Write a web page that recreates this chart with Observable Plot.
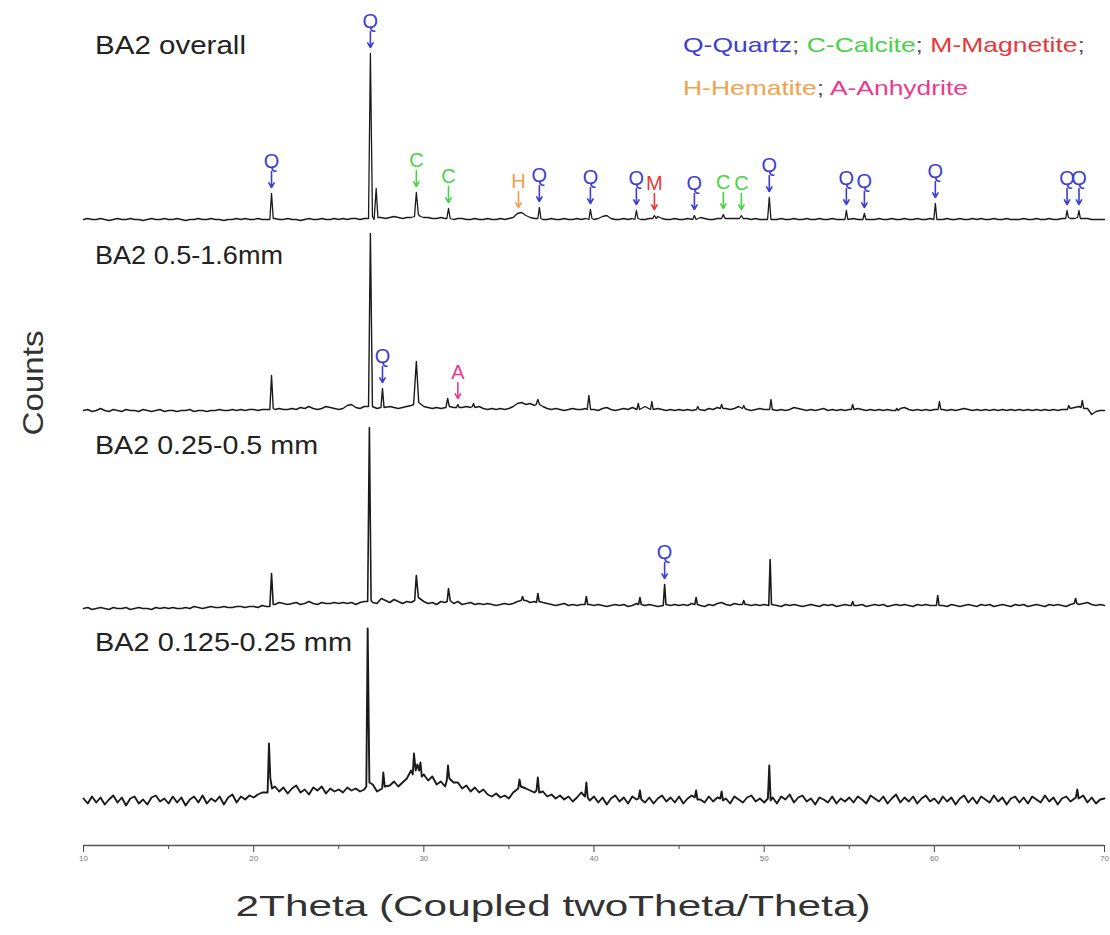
<!DOCTYPE html>
<html><head><meta charset="utf-8">
<script src="https://cdn.jsdelivr.net/npm/d3@7"></script>
<script src="https://cdn.jsdelivr.net/npm/@observablehq/plot@0.6"></script>
<style>body{margin:0;background:#fff;} svg{display:block}</style>
</head><body><div id="chart"></div><script>
// ---------- DATA ----------
const seriesNames = ["BA2 overall", "BA2 0.5-1.6mm", "BA2 0.25-0.5 mm", "BA2 0.125-0.25 mm"];
const seriesOffsets = [625, 433, 239, 45];
const gridStart = 10, gridStep = 0.25;   // background sampled every 0.25° 2θ
const bgOverall = [
 1,2,1,1,2,1,0,1,2,1,1,2,1,1,0,1,2,1,1,2,
 1,1,2,1,0,1,1,2,1,1,2,1,1,0,1,1,2,1,2,1,
 1,2,1,1,2,2,1,1,2,1,1,0,1,2,1,1,2,1,1,2,
 1,2,1,2,2,1,2,2,1,2,3,2,3,4,3,2,3,3,4,4,
 3,3,2,2,3,2,2,1,2,2,1,1,2,1,1,2,1,1,2,1,
 2,3,7,8,5,3,2,2,1,1,2,1,1,2,1,1,2,1,2,1,
 1,2,4,5,2,1,1,2,1,2,1,1,1,2,3,4,2,1,1,2,
 1,1,2,1,2,3,2,1,1,2,3,2,2,2,3,2,2,1,2,1,
 1,1,1,1,2,1,1,2,1,1,2,1,1,2,1,1,2,1,1,2,
 1,2,1,1,2,1,1,2,1,1,2,1,1,2,1,1,2,1,1,2,
 1,1,1,2,1,1,2,1,1,2,1,2,1,1,2,1,1,2,1,1,
 1,2,1,1,2,1,1,2,1,1,2,2,2,2,3,2,2,1,1,1,
 1];
const pkOverall = [
 [20.95,1],[21.05,27],[21.15,2],
 [26.75,2],[26.86,167],[26.98,4],[27.08,1],[27.2,32],[27.3,3],
 [29.45,4],[29.56,28],[29.68,6],[29.8,4],
 [31.35,2],[31.45,12],[31.55,2],
 [36.7,2],[36.79,13],[36.88,2],
 [39.7,1],[39.79,11],[39.88,2],
 [42.4,1],[42.49,10],[42.58,2],
 [43.45,2],[43.55,5],[43.65,2],
 [45.8,1],[45.9,5],[46.0,1],
 [47.5,2],[47.6,6],[47.7,2],
 [48.55,2],[48.66,5],[48.77,2],
 [50.2,1],[50.3,23],[50.4,1],
 [54.75,1],[54.83,10],[54.92,1],
 [55.8,1],[55.89,7],[55.98,1],
 [59.97,1],[60.06,17],[60.15,1],
 [67.72,2],[67.8,10],[67.88,3],[68.42,3],[68.5,10],[68.58,2]];
const bgCoarse = [
 2,3,1,2,4,2,1,3,2,1,3,2,2,1,3,2,1,2,3,1,
 2,2,1,2,2,3,1,2,2,1,2,2,3,2,2,3,2,3,2,3,
 3,2,3,3,3,3,4,3,3,4,3,5,4,6,4,3,4,6,5,4,
 3,4,7,8,5,4,6,6,5,4,6,5,6,5,4,5,6,7,8,8,
 6,5,4,5,4,6,7,5,6,5,6,5,7,6,4,3,4,3,4,3,
 4,6,9,10,8,9,7,8,6,4,3,4,3,2,3,4,3,3,4,3,
 3,2,4,5,3,2,3,4,3,5,3,4,6,4,3,4,3,2,3,2,
 3,2,3,2,4,3,2,4,3,5,6,4,3,4,6,4,3,2,3,4,
 3,3,4,2,3,2,3,5,4,3,2,3,2,3,4,2,3,2,3,2,
 3,3,4,3,2,3,2,3,2,3,2,3,4,5,3,2,3,2,3,2,
 3,3,3,2,3,2,3,4,3,2,3,2,3,2,3,2,3,2,3,2,
 3,2,3,2,3,2,3,2,3,2,3,4,5,5,6,5,4,-2,1,2,
 2];
const pkCoarse = [
 [20.95,3],[21.05,37],[21.15,4],
 [26.75,6],[26.86,179],[26.98,6],
 [27.48,5],[27.57,24],[27.66,5],
 [29.4,8],[29.56,51],[29.7,10],
 [31.3,5],[31.4,14],[31.5,6],
 [31.92,5],[32.0,8],[32.08,5],
 [32.85,6],[32.92,9],[33.0,5],
 [36.6,8],[36.7,13],[36.8,8],
 [39.6,3],[39.7,17],[39.8,3],
 [42.52,3],[42.6,9],[42.68,3],
 [43.32,3],[43.4,11],[43.48,3],
 [46.02,3],[46.1,6],[46.18,3],
 [47.42,4],[47.5,8],[47.58,4],
 [48.72,4],[48.8,7],[48.88,4],
 [50.32,3],[50.4,13],[50.48,3],
 [55.12,3],[55.2,8],[55.28,3],
 [57.72,2],[57.8,4],[57.88,2],
 [60.22,3],[60.3,11],[60.38,3],
 [67.82,3],[67.9,7],[67.98,4],[68.62,5],[68.7,12],[68.78,4]];
const bgMedium = [
 -2,-1,-3,-2,-1,-2,-3,-1,-2,-2,-1,-3,-2,-1,-2,-2,-3,-1,-2,-1,
 -2,-1,-2,-2,-1,-2,0,-1,-2,-1,0,-1,-1,0,-1,-1,0,0,-1,0,
 0,-1,1,0,1,2,4,3,2,3,4,2,3,5,3,2,4,3,3,4,
 3,4,3,4,2,4,5,4,4,3,8,6,4,7,5,3,5,4,6,8,
 5,3,4,2,5,4,6,3,5,2,3,4,2,3,2,3,2,1,2,3,
 2,3,5,8,6,4,5,6,4,3,2,1,2,3,1,2,1,2,3,2,
 1,2,1,0,1,2,1,2,0,1,3,2,1,2,1,0,1,2,1,2,
 1,2,1,3,2,1,0,2,1,3,4,2,1,3,2,4,2,1,2,1,
 2,1,2,1,0,2,1,2,1,0,1,2,1,0,2,1,2,0,1,2,
 1,2,1,2,0,1,2,1,2,0,1,2,1,2,1,0,2,1,2,1,
 1,2,1,0,2,1,0,1,2,1,0,2,1,2,0,1,2,1,0,2,
 1,2,0,1,2,1,0,2,1,2,1,0,2,3,2,3,4,2,1,2,
 1];
const pkMedium = [
 [20.95,0],[21.05,33],[21.15,2],
 [26.7,5],[26.8,179],[26.9,6],
 [29.46,6],[29.56,31],[29.68,9],
 [31.37,5],[31.45,18],[31.55,6],
 [35.72,6],[35.8,10],[35.88,6],
 [36.62,4],[36.7,13],[36.78,5],
 [39.47,2],[39.55,10],[39.63,2],
 [42.62,2],[42.7,9],[42.78,2],
 [44.07,1],[44.15,22],[44.23,2],
 [45.92,2],[46.0,9],[46.08,2],
 [48.72,2],[48.8,6],[48.88,2],
 [50.27,1],[50.35,47],[50.43,2],
 [55.12,1],[55.2,5],[55.28,1],
 [60.12,1],[60.2,11],[60.28,1],
 [68.22,3],[68.3,8],[68.38,3]];
const bgFine = [
 2,-3,4,-2,3,-4,1,5,-2,3,-5,2,4,-3,1,-4,3,5,-1,2,
 -3,4,-2,3,-5,1,4,-2,5,-3,2,-1,4,-4,3,6,-2,4,1,5,
 3,6,8,9,10,14,9,13,7,12,15,8,11,6,13,10,14,7,12,9,
 11,8,13,10,12,9,11,14,16,9,18,22,15,19,14,18,22,30,40,38,
 26,20,24,16,19,14,22,18,18,12,15,9,13,8,11,6,4,7,3,5,
 2,8,14,18,12,10,8,9,9,4,6,2,5,1,4,-1,3,8,5,0,
 4,-2,3,-4,2,5,-1,3,-3,4,1,2,-2,3,-3,2,5,-1,3,-2,
 4,-3,2,5,3,1,-2,4,-1,3,4,2,-3,4,1,-2,3,5,-1,2,
 -2,3,3,-3,4,1,6,-2,3,5,-1,2,-4,3,1,-2,4,-3,2,-1,
 3,-2,4,1,-3,5,2,-1,4,-3,2,6,-2,3,-1,4,-3,2,5,-1,
 2,-3,4,-1,3,-4,2,5,-2,3,-3,4,1,-2,5,-1,3,-4,2,4,
 -2,3,-3,4,1,-2,5,-1,3,-4,2,4,-1,3,6,5,-2,3,-3,1,
 2];
const pkFine = [
 [20.82,8],[20.9,57],[20.98,22],[21.08,12],
 [26.62,14],[26.7,172],[26.8,18],
 [27.55,12],[27.62,28],[27.7,14],
 [29.35,26],[29.42,47],[29.52,30],[29.62,36],[29.72,30],[29.8,38],[29.88,24],
 [31.35,20],[31.42,35],[31.5,22],
 [35.55,12],[35.62,21],[35.7,14],
 [36.62,10],[36.7,23],[36.78,8],
 [39.47,4],[39.55,18],[39.63,3],
 [42.62,2],[42.7,10],[42.78,1],
 [45.92,3],[46.0,10],[46.08,1],
 [47.42,2],[47.5,9],[47.58,0],
 [50.22,2],[50.3,35],[50.38,0],
 [68.32,3],[68.4,11],[68.48,2]];
const annLetter = ["Q","Q","C","C","H","Q","Q","Q","M","Q","C","C","Q","Q","Q","Q","Q","Q","Q","A","Q"];
const annX = [21.05,26.86,29.56,31.45,35.56,36.79,39.79,42.49,43.55,45.9,47.6,48.66,50.3,54.83,55.89,60.06,67.8,68.5,27.57,32.0,44.15];
const annSeries = [0,0,0,0,0,0,0,0,0,0,0,0,0,0,0,0,0,0,1,1,2];
const phaseCodes = ["Q","C","M","H","A"];
const phaseLabels = ["Q-Quartz","C-Calcite","M-Magnetite","H-Hematite","A-Anhydrite"];
const xTicks = [10,20,30,40,50,60,70];
const xMinorTicks = [15,25,35,45,55,65];
const xTitle = "2Theta (Coupled twoTheta/Theta)";
const yTitle = "Counts";

// ---------- BUILD ----------
const phaseColor = {Q:"#3d3dd4", C:"#46d446", M:"#e6383a", H:"#f2a24a", A:"#ec3a8c"};
const lineWidths = [1.3, 1.4, 1.6, 1.9];
function build(bg, peaks) {
  const px = peaks.map(p => p[0]);
  const pts = bg.map((v, i) => [gridStart + i * gridStep, v])
    .filter(([x]) => !px.some(p => Math.abs(p - x) < 0.1));
  return pts.concat(peaks).sort((a, b) => a[0] - b[0]);
}
const series = [build(bgOverall, pkOverall), build(bgCoarse, pkCoarse), build(bgMedium, pkMedium), build(bgFine, pkFine)];
const seriesRows = series.map((pts, k) => pts.map(([x, v]) => ({x, y: seriesOffsets[k] + v, s: seriesNames[k]})));
const anns = annX.map((x, i) => {
  const k = annSeries[i];
  const top = d3.max(series[k].filter(p => Math.abs(p[0] - x) <= 0.15), p => p[1]);
  const base = seriesOffsets[k] + top;
  return {x, t: annLetter[i], color: phaseColor[annLetter[i]], ya: base + 22, yb: base + 6, yl: base + 32};
});

const plot = Plot.plot({
  width: 1110, height: 935,
  marginLeft: 83, marginRight: 6, marginTop: 20, marginBottom: 90,
  x: {domain: [10, 70]},
  y: {domain: [0, 825], axis: null},
  color: {type: "identity"},
  style: {fontFamily: "'Liberation Sans', Arial, sans-serif", background: "#fff"},
  marks: [
    Plot.axisX({ticks: xTicks, tickSize: 7, tickPadding: 3, fontSize: 8, stroke: "#444", fill: "#777", label: null}),
    Plot.axisX({ticks: xMinorTicks, tickSize: 4, tickFormat: () => "", stroke: "#444", label: null}),
    Plot.ruleY([0], {stroke: "#555", strokeWidth: 1.6}),
    ...seriesRows.map((r, k) => Plot.line(r, {x: "x", y: "y", stroke: "#1a1a1a", strokeWidth: lineWidths[k], strokeLinejoin: "round"})),
    Plot.arrow(anns, {x1: "x", x2: "x", y1: "ya", y2: "yb", stroke: "color", strokeWidth: 1.6, headLength: 6}),
    Plot.text(anns, {x: "x", y: "yl", text: "t", fill: "color", fontSize: 20})
  ]
});
document.getElementById("chart").appendChild(plot);

// ---------- free text ----------
const svg = d3.select(plot);
const Y = plot.scale("y");
const FONT = "'Liberation Sans', Arial, sans-serif";
const labelLift = [175, 157, 161, 158];
const labelWidth = [151, 188, 223, 257];
seriesNames.forEach((name, k) => {
  svg.append("text").attr("x", 95).attr("y", Y.apply(seriesOffsets[k] + labelLift[k]))
    .attr("dy", "0.35em").attr("text-anchor", "start").attr("font-size", 25).attr("fill", "#222")
    .attr("font-family", FONT)
    .attr("textLength", labelWidth[k]).attr("lengthAdjust", "spacingAndGlyphs").text(name);
});
const legendLines = [[0, 1, 2], [3, 4]];
const legendW = [402, 285];
legendLines.forEach((idx, li) => {
  const t = svg.append("text").attr("x", 683).attr("y", 45 + li * 43).attr("dy", "0.35em")
    .attr("text-anchor", "start").attr("font-size", 21).attr("font-family", FONT)
    .attr("textLength", legendW[li]).attr("lengthAdjust", "spacingAndGlyphs");
  idx.forEach((j, n) => {
    t.append("tspan").attr("fill", phaseColor[phaseCodes[j]]).text(phaseLabels[j]);
    if (n < idx.length - 1 || li === 0) t.append("tspan").attr("fill", "#555").text(n < idx.length - 1 ? "; " : ";");
  });
});
svg.append("text").attr("x", 553).attr("y", 905).attr("dy", "0.35em").attr("text-anchor", "middle")
  .attr("font-size", 30).attr("fill", "#333").attr("font-family", FONT)
  .attr("textLength", 635).attr("lengthAdjust", "spacingAndGlyphs").text(xTitle);
svg.append("text").attr("transform", "translate(32,383) rotate(-90)").attr("dy", "0.35em").attr("text-anchor", "middle")
  .attr("font-size", 30).attr("fill", "#333").attr("font-family", FONT)
  .attr("textLength", 105).attr("lengthAdjust", "spacingAndGlyphs").text(yTitle);
</script></body></html>
